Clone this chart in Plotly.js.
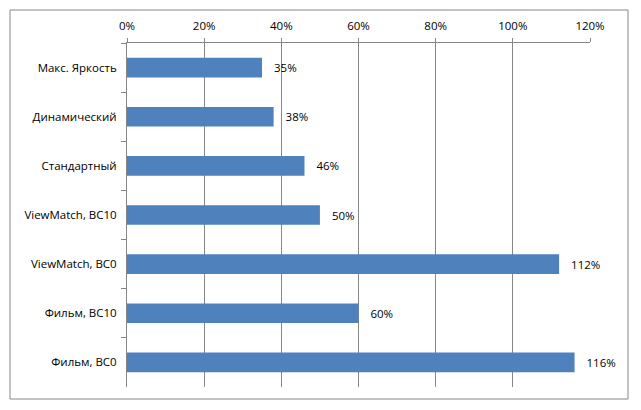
<!DOCTYPE html>
<html>
<head>
<meta charset="utf-8">
<script src="https://cdn.plot.ly/plotly-3.0.1.min.js"></script>
<style>
  html, body { margin: 0; padding: 0; background: #fff; }
  #graphDiv { width: 641px; height: 410px; }
</style>
</head>
<body>
<div id="graphDiv"></div>
<script>
// Chart data
const categories = ['Макс. Яркость', 'Динамический', 'Стандартный', 'ViewMatch, BC10', 'ViewMatch, BC0', 'Фильм, BC10', 'Фильм, BC0'];
const values = [35, 38, 46, 50, 112, 60, 116];
const xTicks = [0, 20, 40, 60, 80, 100, 120];

const gray = '#868686';
const font = { family: 'Open Sans, DejaVu Sans, sans-serif', size: 11.5, color: '#000' };

const bars = {
	type: 'bar',
	orientation: 'h',
	y: categories,
	x: values,
	width: 0.4,
	marker: { color: '#4F81BD' },
	text: values.map((v) => '   ' + v + '%'),
	textposition: 'outside',
	textfont: font,
	cliponaxis: false,
	hoverinfo: 'none',
};

const layout = {
	width: 641,
	height: 410,
	margin: { l: 127, r: 51, t: 43, b: 23 },
	paper_bgcolor: '#fff',
	plot_bgcolor: '#fff',
	font: font,
	showlegend: false,
	xaxis: {
		side: 'top',
		range: [0, 120],
		tickvals: xTicks,
		ticktext: xTicks.map((t) => t + '%'),
		showgrid: true,
		gridcolor: gray,
		gridwidth: 1,
		zeroline: false,
		showline: true,
		linecolor: gray,
		ticks: 'outside',
		ticklen: 4,
		tickcolor: gray,
		tickfont: font,
		ticklabelstandoff: 3,
		fixedrange: true,
	},
	yaxis: {
		type: 'category',
		autorange: 'reversed',
		showline: true,
		linecolor: gray,
		ticks: 'outside',
		tickson: 'boundaries',
		ticklen: 5,
		tickcolor: gray,
		showgrid: false,
		tickfont: font,
		ticklabelstandoff: 7,
		fixedrange: true,
	},
	shapes: [
		{
			type: 'rect',
			xref: 'paper',
			yref: 'paper',
			x0: (10 - 127) / 463,
			x1: (628 - 127) / 463,
			y0: (387 - 399) / 344,
			y1: (387 - 10) / 344,
			line: { color: gray, width: 1 },
			layer: 'below',
		},
	],
};

Plotly.newPlot('graphDiv', [bars], layout, { displayModeBar: false, staticPlot: true });
</script>
</body>
</html>
